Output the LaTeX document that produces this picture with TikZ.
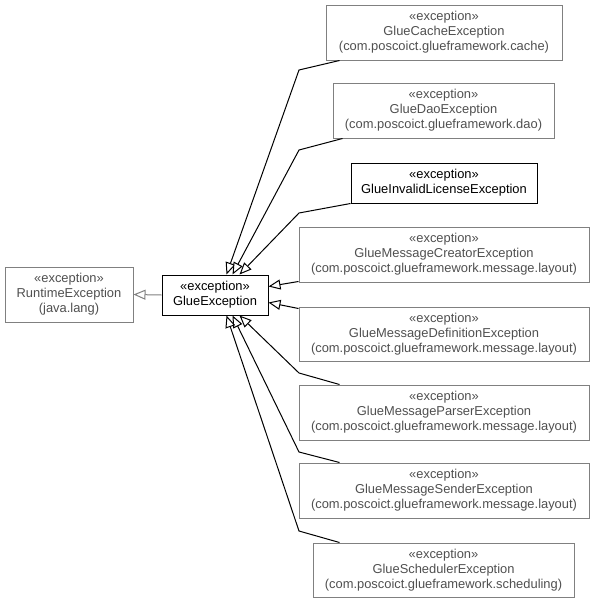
\documentclass[tikz,border=0pt]{standalone}
\usepackage{fontspec}
\setmainfont{Liberation Sans}
\usetikzlibrary{arrows.meta}
\definecolor{boxgray}{HTML}{808080}
\definecolor{txtgray}{HTML}{505050}
\tikzset{
  cls/.style={draw=boxgray, text=txtgray, line width=1pt, inner sep=0pt, align=center,
    font=\fontsize{12.9}{15}\selectfont, fill=white},
  clsdark/.style={cls, draw=black, text=black},
  gen/.style={draw=black, line width=1pt, -{Triangle[open, length=12pt, width=10pt, fill=white]}},
  gengray/.style={gen, draw=boxgray},
}
\begin{document}
\begin{tikzpicture}[x=1pt, y=-1pt]
\useasboundingbox (0,0) rectangle (595,603);
\node[cls, minimum width=128pt, minimum height=55pt] (runtime) at (69,294.5) {«exception»\\RuntimeException\\(java.lang)};
\node[clsdark, minimum width=106pt, minimum height=40pt] (glue) at (215,295) {«exception»\\GlueException};
\node[cls, minimum width=236pt, minimum height=55pt] (cache) at (444,32.5) {«exception»\\GlueCacheException\\(com.poscoict.glueframework.cache)};
\node[cls, minimum width=221pt, minimum height=55pt] (dao) at (443.5,110.5) {«exception»\\GlueDaoException\\(com.poscoict.glueframework.dao)};
\node[clsdark, minimum width=186pt, minimum height=40pt] (invalid) at (444,183) {«exception»\\GlueInvalidLicenseException};
\node[cls, minimum width=290pt, minimum height=55pt] (creator) at (444,254.5) {«exception»\\GlueMessageCreatorException\\(com.poscoict.glueframework.message.layout)};
\node[cls, minimum width=290pt, minimum height=54pt] (definition) at (444,334) {«exception»\\GlueMessageDefinitionException\\(com.poscoict.glueframework.message.layout)};
\node[cls, minimum width=290pt, minimum height=55pt] (parser) at (444,412.5) {«exception»\\GlueMessageParserException\\(com.poscoict.glueframework.message.layout)};
\node[cls, minimum width=290pt, minimum height=55pt] (sender) at (444,490.5) {«exception»\\GlueMessageSenderException\\(com.poscoict.glueframework.message.layout)};
\node[cls, minimum width=261pt, minimum height=54pt] (scheduler) at (443.5,570) {«exception»\\GlueSchedulerException\\(com.poscoict.glueframework.scheduling)};

\coordinate (bcache) at (299,70);
\coordinate (bdao) at (299,150);
\coordinate (binvalid) at (299,213);
\coordinate (bparser) at (299,373);
\coordinate (bsender) at (299,452);
\coordinate (bsched) at (299,531);

\draw[gengray] (glue.west) -- (runtime.east);
\draw[gen] ([xshift=14pt]cache.south west) -- (bcache) -- ([xshift=65pt]glue.north west);
\draw[gen] ([xshift=10pt]dao.south west) -- (bdao) -- ([xshift=71pt]glue.north west);
\draw[gen] (invalid.south west) -- (binvalid) -- ([xshift=78pt]glue.north west);
\draw[gen] ([yshift=1pt]creator.south west) -- ([yshift=-12pt]glue.north east);
\draw[gen] ([yshift=-2pt]definition.north west) -- ([yshift=-28pt]glue.north east);
\draw[gen] ([xshift=41pt]parser.north west) -- (bparser) -- ([xshift=78pt]glue.south west);
\draw[gen] ([xshift=41pt]sender.north west) -- (bsender) -- ([xshift=71pt]glue.south west);
\draw[gen] ([xshift=27pt]scheduler.north west) -- (bsched) -- ([xshift=65pt]glue.south west);
\end{tikzpicture}
\end{document}
